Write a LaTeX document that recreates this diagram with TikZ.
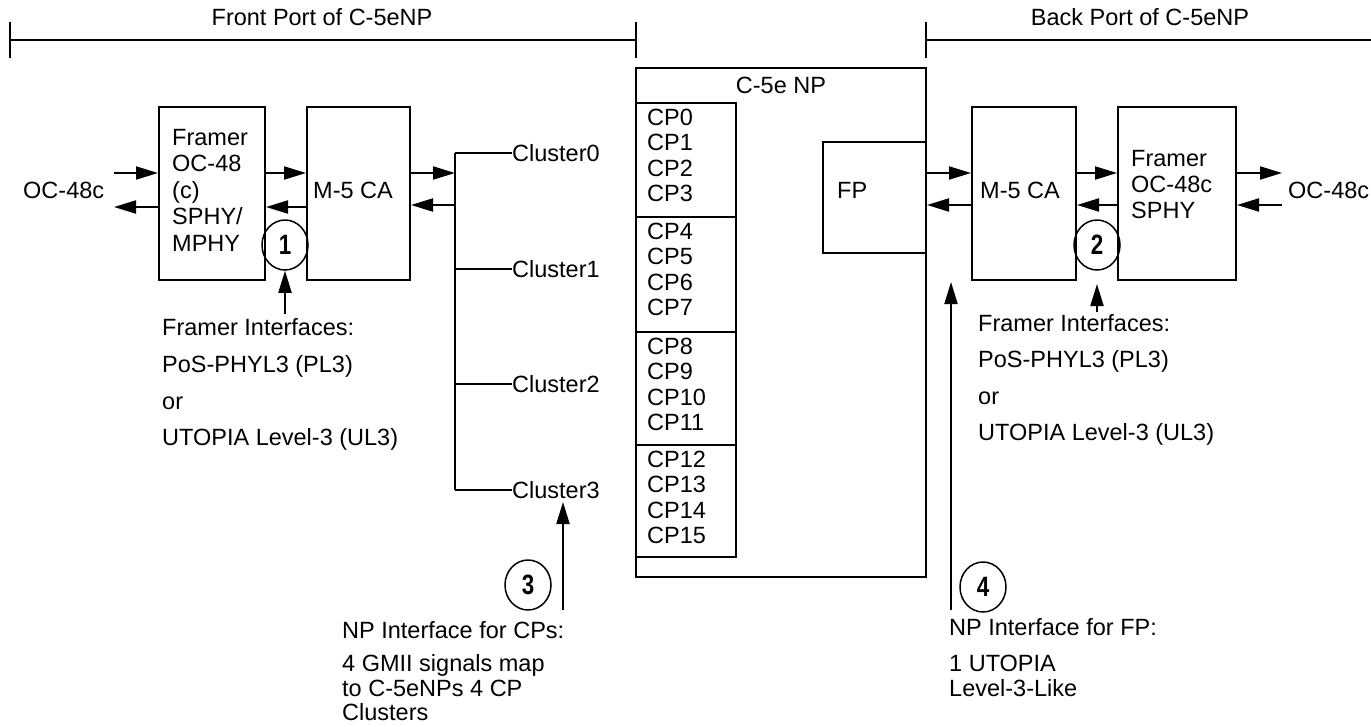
\documentclass[tikz,border=0pt]{standalone}
\usepackage{fontspec}
\setmainfont{Liberation Sans}
\newfontfamily\numfont{Liberation Sans}[FakeStretch=0.8]
\usetikzlibrary{arrows.meta,shapes.geometric}
\begin{document}
\begin{tikzpicture}[x=1pt,y=-1pt,
  lw/.style={line width=2pt},
  box/.style={draw,line width=2pt,inner sep=0pt},
  txt/.style={inner sep=0pt,align=left,font=\fontsize{23.5}{26}\selectfont},
  arr/.style={line width=2pt,-{Triangle[length=22pt,width=13pt]}},
  num/.style={draw,ellipse,line width=1.5pt,minimum width=46pt,minimum height=50pt,inner sep=0pt,font=\numfont\bfseries\fontsize{28}{28}\selectfont},
]
\useasboundingbox (0,0) rectangle (1371,726);

% header brackets
\draw[lw] (10,22) -- (10,58);
\draw[lw] (10,40) -- (636,40);
\draw[lw] (636,22) -- (636,58);
\node[txt,anchor=base] (front) at (322,25.25) {Front Port of C-5eNP};
\draw[lw] (926,22) -- (926,58);
\draw[lw] (926,40) -- (1371,40);
\node[txt,anchor=base] (back) at (1140,25.25) {Back Port of C-5eNP};

% left side
\node[txt,anchor=base west] (ocl) at (23,198.25) {OC-48c};
\node[box,minimum width=106pt,minimum height=173pt] (fl) at (212,193.5) {};
\node[txt,anchor=north west,font=\fontsize{23.5}{26.5}\selectfont] (fltext) at (172,128.75) {Framer\\OC-48\\(c)\\SPHY/\\MPHY};
\node[box,minimum width=103pt,minimum height=173pt] (ml) at (358.5,193.5) {};
\node[txt,anchor=base west] (mltext) at (313,198.25) {M-5 CA};
\coordinate (inl) at (114,173);
\coordinate (outl) at (114,207);
\draw[arr] (inl) -- (inl -| fl.west);
\draw[arr] (outl -| fl.west) -- (outl);
\draw[arr] (fl.east |- inl) -- (ml.west |- inl);
\draw[arr] (ml.west |- outl) -- (fl.east |- outl);

% cluster bus
\node[txt,anchor=base west] (c0) at (512,161.25) {Cluster0};
\node[txt,anchor=base west] (c1) at (512,277.25) {Cluster1};
\node[txt,anchor=base west] (c2) at (512,392.25) {Cluster2};
\node[txt,anchor=base west] (c3) at (512,498.25) {Cluster3};
\coordinate (bus) at (455,0);
\draw[lw] (c0.west -| bus) -- (c3.west -| bus);
\foreach \c in {c0,c1,c2,c3} \draw[lw] (\c.west -| bus) -- (\c.west);
\coordinate (bo) at (455,205);
\draw[arr] (ml.east |- inl) -- (bus |- inl);
\draw[arr] (bo) -- (bo -| ml.east);

% marker 1
\node[num] (n1) at (285,245) {1};
\coordinate (a1) at (285,314);
\draw[arr] (a1) -- (n1.south);
\node[txt,anchor=base west] (fi1) at (162,335.25) {Framer Interfaces:};
\node[txt,anchor=base west] (pl1) at (162,372.25) {PoS-PHYL3 (PL3)};
\node[txt,anchor=base west] (or1) at (162,409.25) {or};
\node[txt,anchor=base west] (ul1) at (162,445.25) {UTOPIA Level-3 (UL3)};

% marker 3
\node[num] (n3) at (528,585) {3};
\coordinate (a3s) at (563,610);
\coordinate (a3e) at (563,502);
\draw[arr] (a3s) -- (a3e);
\node[txt,anchor=base west] (npc) at (342,638.25) {NP Interface for CPs:};
\node[txt,anchor=north west,font=\fontsize{23.5}{24.5}\selectfont] (gmii) at (342,654.75) {4 GMII signals map\\to C-5eNPs 4 CP\\Clusters};

% C-5e NP
\node[box,minimum width=290pt,minimum height=509pt] (np) at (781,322.5) {};
\node[txt,anchor=base] (nptitle) at (781,93.25) {C-5e NP};
\node[box,minimum width=100pt,minimum height=114pt] (g0) at (686,160) {};
\node[box,minimum width=100pt,minimum height=115pt] (g1) at (686,274.5) {};
\node[box,minimum width=100pt,minimum height=113pt] (g2) at (686,388.5) {};
\node[box,minimum width=100pt,minimum height=112pt] (g3) at (686,501) {};
\node[txt,anchor=north west,font=\fontsize{23.5}{25.5}\selectfont] (t0) at (647,108.75) {CP0\\CP1\\CP2\\CP3};
\node[txt,anchor=north west,font=\fontsize{23.5}{25.5}\selectfont] (t1) at (647,222.75) {CP4\\CP5\\CP6\\CP7};
\node[txt,anchor=north west,font=\fontsize{23.5}{25.5}\selectfont] (t2) at (647,337.75) {CP8\\CP9\\CP10\\CP11};
\node[txt,anchor=north west,font=\fontsize{23.5}{25.5}\selectfont] (t3) at (647,450.75) {CP12\\CP13\\CP14\\CP15};
\node[box,minimum width=103pt,minimum height=111pt] (fp) at (874.5,197.5) {};
\node[txt,anchor=base west] (fptext) at (837,198.25) {FP};

% right side
\node[box,minimum width=104pt,minimum height=173pt] (mr) at (1024,193.5) {};
\node[txt,anchor=base west] (mrtext) at (980,198.25) {M-5 CA};
\node[box,minimum width=118pt,minimum height=173pt] (fr) at (1177,193.5) {};
\node[txt,anchor=north west] (frtext) at (1131,149.75) {Framer\\OC-48c\\SPHY};
\node[txt,anchor=base west] (ocr) at (1288,198.25) {OC-48c};
\coordinate (inr) at (1282,173);
\coordinate (outr) at (1282,205);
\draw[arr] (np.east |- inr) -- (mr.west |- inr);
\draw[arr] (mr.west |- outr) -- (np.east |- outr);
\draw[arr] (mr.east |- inr) -- (fr.west |- inr);
\draw[arr] (fr.west |- outr) -- (mr.east |- outr);
\draw[arr] (fr.east |- inr) -- (inr);
\draw[arr] (outr) -- (fr.east |- outr);

% marker 2
\node[num] (n2) at (1097,245) {2};
\coordinate (a2s) at (1097,312);
\coordinate (a2e) at (1097,284);
\draw[arr] (a2s) -- (a2e);
\node[txt,anchor=base west] (fi2) at (978,331.25) {Framer Interfaces:};
\node[txt,anchor=base west] (pl2) at (978,367.25) {PoS-PHYL3 (PL3)};
\node[txt,anchor=base west] (or2) at (978,404.25) {or};
\node[txt,anchor=base west] (ul2) at (978,440.25) {UTOPIA Level-3 (UL3)};

% marker 4
\coordinate (a4s) at (951,610);
\coordinate (a4e) at (951,282);
\draw[arr] (a4s) -- (a4e);
\node[num] (n4) at (983,587) {4};
\node[txt,anchor=base west] (npf) at (949,635.25) {NP Interface for FP:};
\node[txt,anchor=north west,font=\fontsize{23.5}{25}\selectfont] (uto) at (949,654.75) {1 UTOPIA\\Level-3-Like};
\end{tikzpicture}
\end{document}
